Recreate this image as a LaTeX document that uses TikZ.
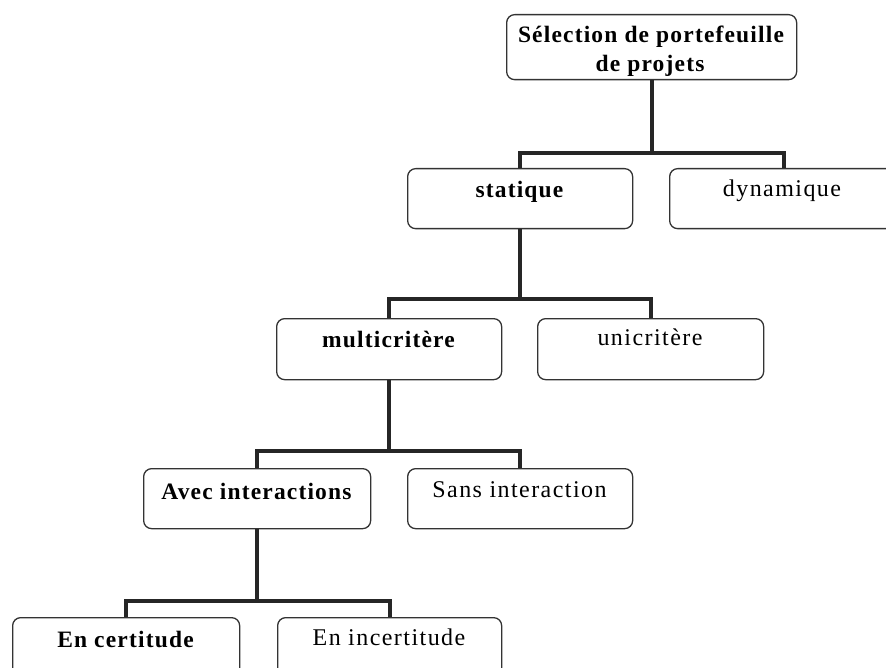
\documentclass[tikz,border=0pt]{standalone}
\usepackage{fontspec}
\setmainfont{Liberation Serif}[LetterSpace=5]
\newfontfamily\regfont{Liberation Serif}[LetterSpace=6]
\begin{document}
\begin{tikzpicture}[x=1pt,y=-1pt,
  box/.style={draw=black!80, line width=1.3pt, rounded corners=8pt, fill=white, anchor=north west, inner sep=0pt},
  conn/.style={line width=4pt, draw=black!85, line join=miter},
  lbl/.style={anchor=base, inner sep=0pt, font=\regfont\fontsize{24}{28}\selectfont},
  blbl/.style={anchor=base, inner sep=0pt, font=\fontsize{23.5}{28}\selectfont\bfseries}]
\useasboundingbox (0,0) rectangle (886,668);
\clip (0,0) rectangle (886,668);
% boxes
\node[box, minimum width=290, minimum height=65] (top) at (506,14) {};
\node[box, minimum width=225, minimum height=60] (stat) at (407,168) {};
\node[box, minimum width=228, minimum height=60] (dyn) at (669,168) {};
\node[box, minimum width=225, minimum height=61] (multi) at (276,318) {};
\node[box, minimum width=226, minimum height=61] (uni) at (537,318) {};
\node[box, minimum width=227, minimum height=60] (avec) at (143,468) {};
\node[box, minimum width=225, minimum height=60] (sans) at (407,468) {};
\node[box, minimum width=227, minimum height=62] (cert) at (12,617) {};
\node[box, minimum width=224, minimum height=62] (incert) at (277,617) {};
% labels
\node[blbl] (topT1) at (651,43) {Sélection de portefeuille};
\node[blbl] (topT2) at (650,72) {de projets};
\node[blbl] (statT) at (519.5,198) {statique};
\node[lbl] (dynT) at (782,197) {dynamique};
\node[blbl] (multiT) at (388.5,347) {multicritère};
\node[lbl] (uniT) at (650,345) {unicritère};
\node[blbl] (avecT) at (256.5,499) {Avec interactions};
\node[lbl] (sansT) at (519.5,497) {Sans interaction};
\node[blbl] (certT) at (125.5,647) {En certitude};
\node[lbl] (incertT) at (389,645) {En incertitude};
% connectors
\draw[conn] (top.south) -- ++(0,73) coordinate (j1);
\draw[conn] (stat.north) |- (j1) -| (dyn.north);
\draw[conn] (stat.south) -- ++(0,70) coordinate (j2);
\draw[conn] (multi.north) |- (j2) -| (uni.north);
\draw[conn] (multi.south) -- ++(0,71) coordinate (j3);
\draw[conn] (avec.north) |- (j3) -| (sans.north);
\draw[conn] (avec.south) -- ++(0,72) coordinate (j4);
\draw[conn] (cert.north) |- (j4) -| (incert.north);
\end{tikzpicture}
\end{document}
